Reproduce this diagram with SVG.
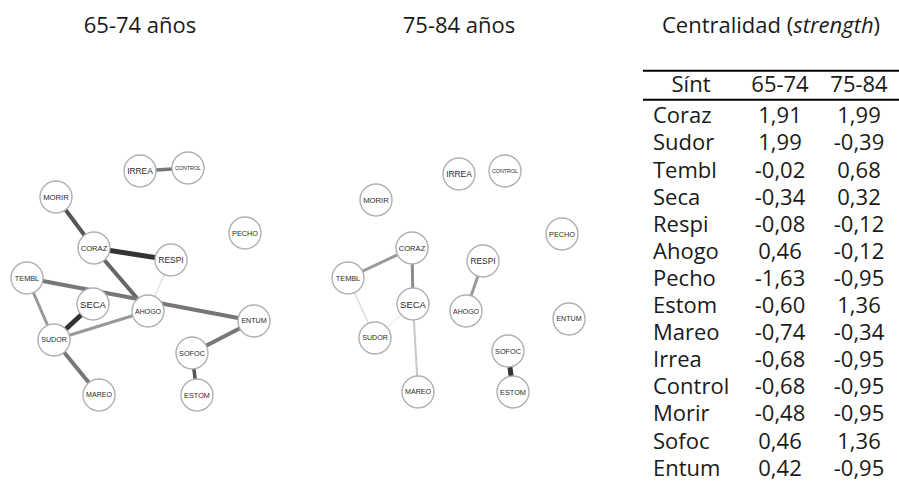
<svg xmlns="http://www.w3.org/2000/svg" width="899" height="488" viewBox="0 0 899 488">
  <style>
    .title { font-family: "Open Sans", "Noto Sans", sans-serif; font-size: 22px; fill: #1a1a1a; }
    .tbl { font-family: "Open Sans", "Noto Sans", sans-serif; font-size: 22px; fill: #1a1a1a; }
    .node circle { fill: #ffffff; stroke: #b0b0b0; stroke-width: 1.4; }
    .node text { font-family: "Liberation Sans", Arial, sans-serif; fill: #2a2a2a; text-anchor: middle; dominant-baseline: central; }
    .edges line { stroke-linecap: butt; }
    .num { text-anchor: middle; }
  </style>

  <rect width="899" height="488" fill="#ffffff"/>

  <!-- panel titles -->
  <text class="title" x="140" y="33" text-anchor="middle">65-74 años</text>
  <text class="title" x="459" y="33" text-anchor="middle">75-84 años</text>
  <text class="title" x="771" y="33" text-anchor="middle">Centralidad (<tspan font-style="italic">strength</tspan>)</text>

  <!-- network 65-74: connectors -->
  <g id="edges-6574" class="edges">
    <line x1="140" y1="171" x2="188" y2="168" stroke="#777" stroke-width="3.5"/>
    <line x1="56" y1="197" x2="94" y2="248" stroke="#555" stroke-width="4"/>
    <line x1="94" y1="248" x2="171" y2="260" stroke="#333" stroke-width="5"/>
    <line x1="94" y1="248" x2="148" y2="311" stroke="#666" stroke-width="4"/>
    <line x1="171" y1="260" x2="148" y2="311" stroke="#ddd" stroke-width="1.2"/>
    <line x1="27" y1="278" x2="254" y2="321" stroke="#777" stroke-width="4"/>
    <line x1="27" y1="278" x2="54" y2="340" stroke="#999" stroke-width="3"/>
    <line x1="93" y1="304" x2="54" y2="340" stroke="#333" stroke-width="5"/>
    <line x1="54" y1="340" x2="148" y2="311" stroke="#999" stroke-width="3"/>
    <line x1="54" y1="340" x2="99" y2="395" stroke="#777" stroke-width="4"/>
    <line x1="254" y1="321" x2="192" y2="353" stroke="#777" stroke-width="4"/>
    <line x1="192" y1="353" x2="197" y2="395" stroke="#555" stroke-width="3.5"/>
  </g>

  <!-- network 65-74: nodes -->
  <g id="a-irrea" class="node"><circle cx="140" cy="171" r="16"/><text x="140" y="171" font-size="8.4">IRREA</text></g>
  <g id="a-control" class="node"><circle cx="188" cy="168" r="16"/><text x="188" y="168" font-size="5.3">CONTROL</text></g>
  <g id="a-morir" class="node"><circle cx="56" cy="197" r="16"/><text x="56" y="197" font-size="7.7">MORIR</text></g>
  <g id="a-pecho" class="node"><circle cx="245" cy="233" r="16"/><text x="245" y="233" font-size="7.3">PECHO</text></g>
  <g id="a-coraz" class="node"><circle cx="94" cy="248" r="16"/><text x="94" y="248" font-size="7.6">CORAZ</text></g>
  <g id="a-respi" class="node"><circle cx="171" cy="260" r="16"/><text x="171" y="260" font-size="8.4">RESPI</text></g>
  <g id="a-tembl" class="node"><circle cx="27" cy="278" r="16"/><text x="27" y="278" font-size="7.3">TEMBL</text></g>
  <g id="a-seca" class="node"><circle cx="93" cy="304" r="16"/><text x="93" y="304" font-size="9.5">SECA</text></g>
  <g id="a-ahogo" class="node"><circle cx="148" cy="311" r="16"/><text x="148" y="311" font-size="7">AHOGO</text></g>
  <g id="a-entum" class="node"><circle cx="254" cy="321" r="16"/><text x="254" y="321" font-size="7.1">ENTUM</text></g>
  <g id="a-sudor" class="node"><circle cx="54" cy="340" r="16"/><text x="54" y="340" font-size="7.1">SUDOR</text></g>
  <g id="a-sofoc" class="node"><circle cx="192" cy="353" r="16"/><text x="192" y="353" font-size="7.3">SOFOC</text></g>
  <g id="a-mareo" class="node"><circle cx="99" cy="395" r="16"/><text x="99" y="395" font-size="7.1">MAREO</text></g>
  <g id="a-estom" class="node"><circle cx="197" cy="395" r="16"/><text x="197" y="395" font-size="7.3">ESTOM</text></g>

  <!-- network 75-84: connectors -->
  <g id="edges-7584" class="edges">
    <line x1="412" y1="248" x2="348" y2="278" stroke="#999" stroke-width="3"/>
    <line x1="412" y1="248" x2="413" y2="304" stroke="#8c8c8c" stroke-width="3"/>
    <line x1="483" y1="261" x2="466" y2="311" stroke="#9a9a9a" stroke-width="3"/>
    <line x1="348" y1="278" x2="375" y2="338" stroke="#ddd" stroke-width="1.5"/>
    <line x1="413" y1="304" x2="375" y2="338" stroke="#eee" stroke-width="1.2"/>
    <line x1="413" y1="304" x2="418" y2="392" stroke="#c8c8c8" stroke-width="2"/>
    <line x1="508" y1="351" x2="513" y2="392" stroke="#333" stroke-width="5"/>
  </g>

  <!-- network 75-84: nodes -->
  <g id="b-irrea" class="node"><circle cx="459" cy="174" r="16"/><text x="459" y="174" font-size="8.4">IRREA</text></g>
  <g id="b-control" class="node"><circle cx="505" cy="171" r="16"/><text x="505" y="171" font-size="5.3">CONTROL</text></g>
  <g id="b-morir" class="node"><circle cx="376" cy="200" r="16"/><text x="376" y="200" font-size="7.7">MORIR</text></g>
  <g id="b-pecho" class="node"><circle cx="562" cy="234" r="16"/><text x="562" y="234" font-size="7.3">PECHO</text></g>
  <g id="b-coraz" class="node"><circle cx="412" cy="248" r="16"/><text x="412" y="248" font-size="7.6">CORAZ</text></g>
  <g id="b-respi" class="node"><circle cx="483" cy="261" r="16"/><text x="483" y="261" font-size="8.4">RESPI</text></g>
  <g id="b-tembl" class="node"><circle cx="348" cy="278" r="16"/><text x="348" y="278" font-size="7.3">TEMBL</text></g>
  <g id="b-seca" class="node"><circle cx="413" cy="304" r="16"/><text x="413" y="304" font-size="9.5">SECA</text></g>
  <g id="b-ahogo" class="node"><circle cx="466" cy="311" r="16"/><text x="466" y="311" font-size="7">AHOGO</text></g>
  <g id="b-entum" class="node"><circle cx="569" cy="319" r="16"/><text x="569" y="319" font-size="7.1">ENTUM</text></g>
  <g id="b-sudor" class="node"><circle cx="375" cy="338" r="16"/><text x="375" y="338" font-size="7.1">SUDOR</text></g>
  <g id="b-sofoc" class="node"><circle cx="508" cy="351" r="16"/><text x="508" y="351" font-size="7.3">SOFOC</text></g>
  <g id="b-mareo" class="node"><circle cx="418" cy="392" r="16"/><text x="418" y="392" font-size="7.1">MAREO</text></g>
  <g id="b-estom" class="node"><circle cx="513" cy="392" r="16"/><text x="513" y="392" font-size="7.3">ESTOM</text></g>

  <!-- centrality table -->
  <g id="table" class="tbl">
    <line x1="643" y1="70.7" x2="899" y2="70.7" stroke="#000" stroke-width="2"/>
    <line x1="643" y1="99.7" x2="899" y2="99.7" stroke="#000" stroke-width="2"/>
    <text x="691" y="92.3" class="num">Sínt</text>
    <text x="780" y="92.3" class="num">65-74</text>
    <text x="859" y="92.3" class="num">75-84</text>

    <text x="653" y="123.3">Coraz</text><text x="780" y="123.3" class="num">1,91</text><text x="859" y="123.3" class="num">1,99</text>
    <text x="653" y="150.4">Sudor</text><text x="780" y="150.4" class="num">1,99</text><text x="859" y="150.4" class="num">-0,39</text>
    <text x="653" y="177.5">Tembl</text><text x="780" y="177.5" class="num">-0,02</text><text x="859" y="177.5" class="num">0,68</text>
    <text x="653" y="204.6">Seca</text><text x="780" y="204.6" class="num">-0,34</text><text x="859" y="204.6" class="num">0,32</text>
    <text x="653" y="231.7">Respi</text><text x="780" y="231.7" class="num">-0,08</text><text x="859" y="231.7" class="num">-0,12</text>
    <text x="653" y="258.8">Ahogo</text><text x="780" y="258.8" class="num">0,46</text><text x="859" y="258.8" class="num">-0,12</text>
    <text x="653" y="285.9">Pecho</text><text x="780" y="285.9" class="num">-1,63</text><text x="859" y="285.9" class="num">-0,95</text>
    <text x="653" y="313.0">Estom</text><text x="780" y="313.0" class="num">-0,60</text><text x="859" y="313.0" class="num">1,36</text>
    <text x="653" y="340.1">Mareo</text><text x="780" y="340.1" class="num">-0,74</text><text x="859" y="340.1" class="num">-0,34</text>
    <text x="653" y="367.2">Irrea</text><text x="780" y="367.2" class="num">-0,68</text><text x="859" y="367.2" class="num">-0,95</text>
    <text x="653" y="394.3">Control</text><text x="780" y="394.3" class="num">-0,68</text><text x="859" y="394.3" class="num">-0,95</text>
    <text x="653" y="421.4">Morir</text><text x="780" y="421.4" class="num">-0,48</text><text x="859" y="421.4" class="num">-0,95</text>
    <text x="653" y="448.5">Sofoc</text><text x="780" y="448.5" class="num">0,46</text><text x="859" y="448.5" class="num">1,36</text>
    <text x="653" y="475.6">Entum</text><text x="780" y="475.6" class="num">0,42</text><text x="859" y="475.6" class="num">-0,95</text>
  </g>
</svg>
